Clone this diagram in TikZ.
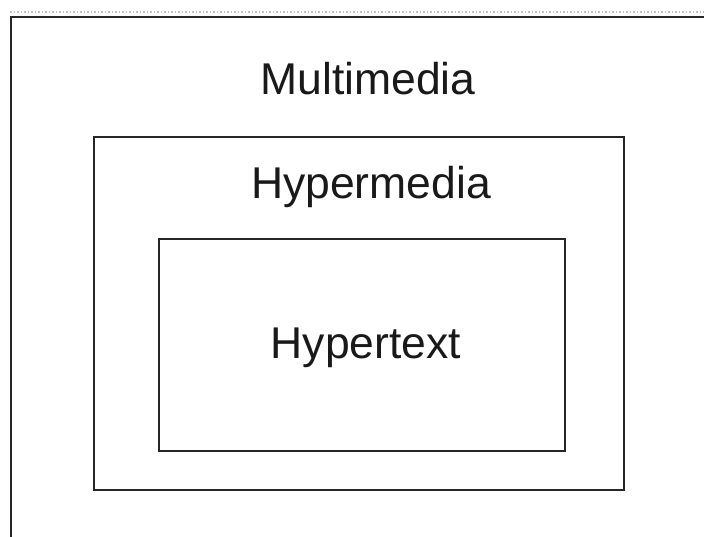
\documentclass[tikz,border=0pt]{standalone}
\usepackage{fontspec}
\setmainfont{Liberation Sans}
\begin{document}
\begin{tikzpicture}[x=1pt,y=-1pt,
  frame/.style={draw=black!85, line width=2pt},
  label/.style={anchor=base, inner sep=0pt, text=black!90, font=\fontsize{44.5}{52}\selectfont}]
  \useasboundingbox (0,0) rectangle (704,537);
  \begin{scope}
    \clip (0,0) rectangle (704,537);
    % dotted page edge
    \draw[black!25, line width=1.5pt, dotted] (10,12) -- (704,12);
    % nested boxes
    \draw[frame] (11,17) rectangle (730,560);
    \draw[frame] (94,137) rectangle (624,490);
    \draw[frame] (159,239) rectangle (565,451);
  \end{scope}
  \node[label] (multi) at (368,95) {Multimedia};
  \node[label] (hmedia) at (371,199) {Hypermedia};
  \node[label] (htext) at (366,358) {Hypertext};
\end{tikzpicture}
\end{document}
